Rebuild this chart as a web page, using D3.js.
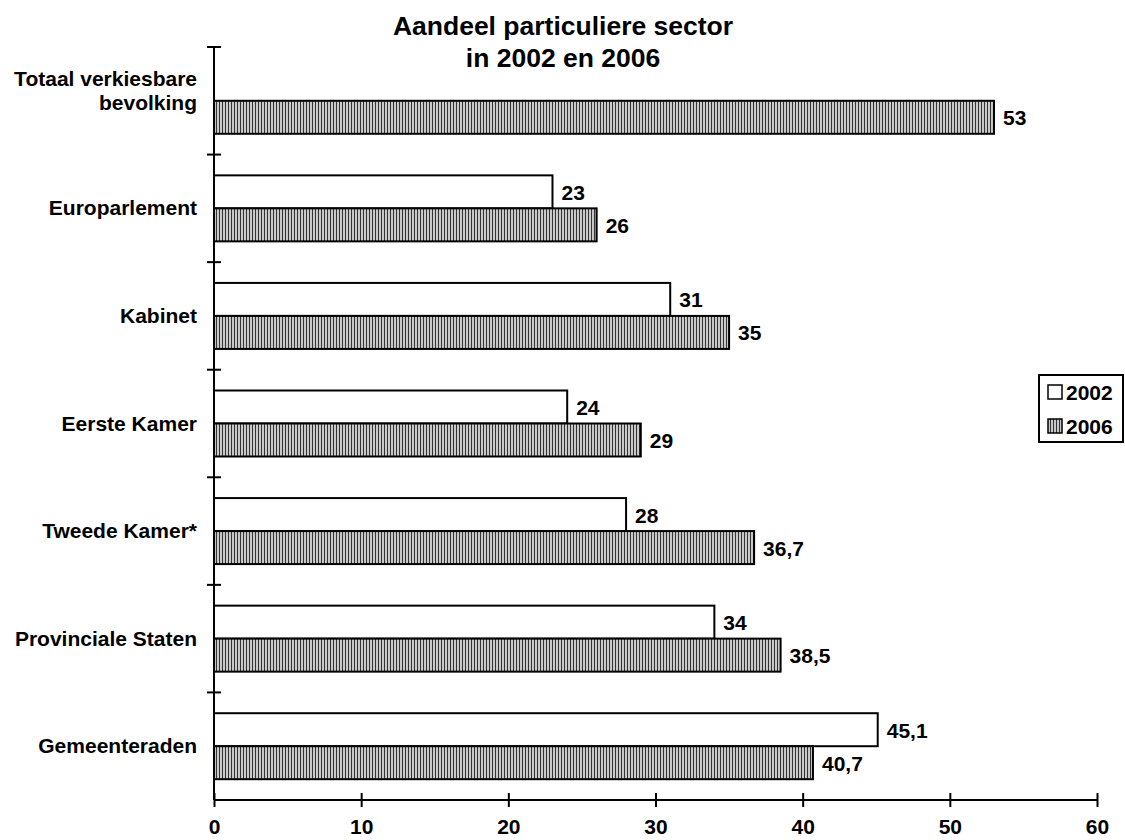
<!DOCTYPE html>
<html><head><meta charset="utf-8">
<script src="https://cdn.jsdelivr.net/npm/d3@7"></script>
<style>body{margin:0;background:#fff}text{font-family:"Liberation Sans",Arial,sans-serif;font-weight:bold}</style>
</head><body>
<script>
const categories = [["Totaal verkiesbare","bevolking"],["Europarlement"],["Kabinet"],["Eerste Kamer"],["Tweede Kamer*"],["Provinciale Staten"],["Gemeenteraden"]];
const series = ["2002","2006"];
const values2002 = [null, 23, 31, 24, 28, 34, 45.1];
const values2006 = [53, 26, 35, 29, 36.7, 38.5, 40.7];
const xTicks = [0,10,20,30,40,50,60];
const title = ["Aandeel particuliere sector","in 2002 en 2006"];

const W=1125,H=840;
const svg=d3.select("body").append("svg").attr("width",W).attr("height",H);
const defs=svg.append("defs");
const pat=defs.append("pattern").attr("id","hatch").attr("patternUnits","userSpaceOnUse").attr("width",3).attr("height",6);
pat.append("rect").attr("width",3).attr("height",6).attr("fill","#c8c8c8");
pat.append("rect").attr("x",0).attr("width",1).attr("height",6).attr("fill","#333");

const x=d3.scaleLinear().domain([0,60]).range([214,1097]);
const idx=categories.map((d,i)=>i);
const y=d3.scaleBand().domain(idx).range([47,800]);
const inner=d3.scaleBand().domain(series).range([0,66]);
const off=(y.bandwidth()-66)/2;

const fmt=v=>String(v).replace(".",",");
const fills={"2002":"#fff","2006":"url(#hatch)"};
const data=[];
idx.forEach(i=>{
  [["2002",values2002[i]],["2006",values2006[i]]].forEach(([s,v])=>{ if(v!=null) data.push({i,s,v}); });
});
const g=svg.append("g");
g.selectAll("rect.bar").data(data).join("rect").attr("class","bar")
 .attr("x",x(0)).attr("y",d=>y(d.i)+off+inner(d.s)).attr("width",d=>x(d.v)-x(0)).attr("height",inner.bandwidth())
 .attr("fill",d=>fills[d.s]).attr("stroke","#000").attr("stroke-width",2);
g.selectAll("text.val").data(data).join("text").attr("class","val")
 .attr("x",d=>x(d.v)+9).attr("y",d=>y(d.i)+off+inner(d.s)+inner.bandwidth()/2+8)
 .attr("font-size",21).text(d=>fmt(d.v));

// x axis
const xa=svg.append("g").attr("transform","translate(0,800)")
 .call(d3.axisBottom(x).tickValues(xTicks).tickFormat(d=>d).tickSize(7));
xa.select(".domain").attr("stroke-width",2).attr("d",`M${x(0)},0H${x(60)}`);
xa.selectAll(".tick line").attr("y1",-7).attr("y2",7).attr("stroke-width",2);
xa.selectAll(".tick text").attr("y",34).attr("dy",null).attr("font-size",21).attr("font-family","Liberation Sans, Arial").attr("font-weight","bold").attr("fill","#000");

// y axis
svg.append("line").attr("x1",x(0)).attr("x2",x(0)).attr("y1",47).attr("y2",800).attr("stroke","#000").attr("stroke-width",2);
const bounds=idx.map(i=>y(i));
svg.selectAll("line.yt").data(bounds).join("line").attr("class","yt")
 .attr("x1",x(0)-7).attr("x2",x(0)+7).attr("y1",d=>d).attr("y2",d=>d).attr("stroke","#000").attr("stroke-width",2);
idx.forEach(i=>{
  const lines=categories[i];
  const cy=y(i)+y.bandwidth()/2+7;
  const t=svg.append("text").attr("text-anchor","end").attr("font-size",21);
  if(lines.length>1){
    lines.forEach((l,k)=>t.append("tspan").attr("x",197).attr("y",cy+2+(k-1)*24).text(l));
  } else {
    t.append("tspan").attr("x",197).attr("y",cy).text(lines[0]);
  }
});

// title
svg.append("text").attr("text-anchor","middle").attr("font-size",26.5)
 .selectAll("tspan").data(title).join("tspan").attr("x",563).attr("y",(d,k)=>35+k*32).text(d=>d);

// legend
const lg=svg.append("g");
lg.append("rect").attr("x",1039).attr("y",375).attr("width",84).attr("height",67).attr("fill","#fff").attr("stroke","#000").attr("stroke-width",2);
series.forEach((s,k)=>{
  lg.append("rect").attr("x",1048).attr("y",385+k*34).attr("width",14).attr("height",14).attr("fill",fills[s]).attr("stroke","#000").attr("stroke-width",1.5);
  lg.append("text").attr("x",1066).attr("y",400+k*34).attr("font-size",21).text(s);
});
</script>
</body></html>
